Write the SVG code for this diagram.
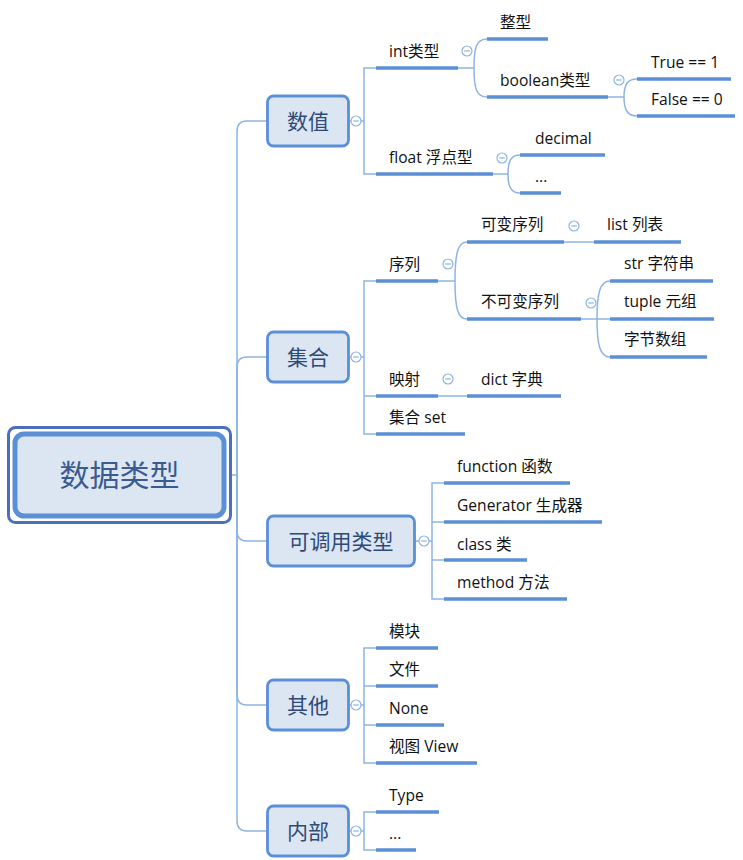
<svg xmlns="http://www.w3.org/2000/svg" width="743" height="860" viewBox="0 0 743 860">
<style>
.c{fill:none;stroke:#8db4e5;stroke-width:1.5}
.u{fill:none;stroke:#5b8fd6;stroke-width:3.5}
.n{fill:#dce6f3;stroke:#5b8fd6;stroke-width:2.8}
.o{fill:#fff;stroke:#8db4e5;stroke-width:1.2}
.m{stroke:#8db4e5;stroke-width:1.2}
.t{font-family:"Open Sans","Noto Sans CJK SC",sans-serif;font-size:15.6px;fill:#111}
.l{font-family:"Noto Sans CJK SC","Open Sans",sans-serif;font-size:21px;fill:#2e4a78;text-anchor:middle}
</style>
<defs>
<g id="col"><circle class="o" r="5"/><line class="m" x1="-2.8" y1="0" x2="2.8" y2="0"/></g>
</defs>
<rect width="743" height="860" fill="#fff"/>
<g id="connectors">
<path class="c" d="M231,475 H237"/>
<path class="c" d="M237,475 V131 Q237,121 247,121 H267"/>
<path class="c" d="M237,475 V367 Q237,357 247,357 H267"/>
<path class="c" d="M237,475 V531 Q237,541 247,541 H267"/>
<path class="c" d="M237,475 V695 Q237,705 247,705 H267"/>
<path class="c" d="M237,475 V821 Q237,831 247,831 H267"/>
<path class="c" d="M349,121 H364 M376,68 H364 V174 H376"/>
<path class="c" d="M458,68 H474 M474,68 C474,46 477,39 487,39 M474,68 C474,90 477,97 487,97"/>
<path class="c" d="M608,97 H624 M624,97 C624,85 627,79 637,79 M624,97 C624,109 627,116 637,116"/>
<path class="c" d="M493,174 H508 M508,174 C508,161 511,155 520,155 M508,174 C508,187 511,193 520,193"/>
<path class="c" d="M349,357 H364 M376,281 H364 V434 H376 M364,396 H376"/>
<path class="c" d="M438,281 H455 M455,281 C455,253 458,242 467,242 M455,281 C455,309 458,319 467,319"/>
<path class="c" d="M438,396 H467"/>
<path class="c" d="M564,242 H594"/>
<path class="c" d="M581,319 H610 M597,319 C597,293 600,281 610,281 M597,319 C597,345 600,357 610,357"/>
<path class="c" d="M415,541 H432 M444,483 H432 V599 H444 M432,522 H444 M432,560 H444"/>
<path class="c" d="M349,705 H364 M376,648 H364 V763 H376 M364,686 H376 M364,725 H376"/>
<path class="c" d="M349,831 H364 M376,812 H364 V850 H376"/>
</g>
<g id="root">
<rect x="8.5" y="427.5" width="222" height="95" rx="7" fill="#fff" stroke="#4a6fbd" stroke-width="3"/>
<rect x="15" y="434" width="209" height="82" rx="9" fill="#dce6f3" stroke="#5b8fd6" stroke-width="5"/>
<text x="119.5" y="486" font-family="Noto Sans CJK SC,sans-serif" font-size="30" fill="#3b5a8f" text-anchor="middle">数据类型</text>
</g>
<g id="n-shuzhi">
<rect class="n" x="267.5" y="96" width="81" height="50" rx="6"/>
<text class="l" x="308" y="128.5">数值</text>
<use href="#col" x="356" y="121"/>
</g>
<g id="n-jihe">
<rect class="n" x="267.5" y="332" width="81" height="50" rx="6"/>
<text class="l" x="308" y="364.5">集合</text>
<use href="#col" x="356" y="357"/>
</g>
<g id="n-kediaoyong">
<rect class="n" x="267.5" y="516" width="147" height="50" rx="6"/>
<text class="l" x="341" y="548.5">可调用类型</text>
<use href="#col" x="424" y="541"/>
</g>
<g id="n-qita">
<rect class="n" x="267.5" y="680" width="81" height="50" rx="6"/>
<text class="l" x="308" y="712.5">其他</text>
<use href="#col" x="356" y="705"/>
</g>
<g id="n-neibu">
<rect class="n" x="267.5" y="806" width="81" height="50" rx="6"/>
<text class="l" x="308" y="838.5">内部</text>
<use href="#col" x="356" y="831"/>
</g>
<g id="n-int"><path class="u" d="M376,68 H458"/><text class="t" x="389" y="57">int类型</text><use href="#col" x="467" y="51"/></g>
<g id="n-float"><path class="u" d="M376,174 H493"/><text class="t" x="389" y="163">float 浮点型</text><use href="#col" x="502" y="158"/></g>
<g id="n-zhengxing"><path class="u" d="M487,39 H548"/><text class="t" x="500" y="28">整型</text></g>
<g id="n-boolean"><path class="u" d="M487,97 H608"/><text class="t" x="500" y="86">boolean类型</text><use href="#col" x="619" y="80"/></g>
<g id="n-true"><path class="u" d="M637,79 H731"/><text class="t" x="651" y="68">True == 1</text></g>
<g id="n-false"><path class="u" d="M637,116 H735"/><text class="t" x="651" y="105">False == 0</text></g>
<g id="n-decimal"><path class="u" d="M520,155 H605"/><text class="t" x="535" y="144">decimal</text></g>
<g id="n-dots1"><path class="u" d="M520,193 H561"/><text class="t" x="535" y="182">...</text></g>
<g id="n-xulie"><path class="u" d="M376,281 H438"/><text class="t" x="389" y="270">序列</text><use href="#col" x="448" y="264"/></g>
<g id="n-yingshe"><path class="u" d="M376,396 H438"/><text class="t" x="389" y="385">映射</text><use href="#col" x="448" y="379"/></g>
<g id="n-set"><path class="u" d="M376,434 H465"/><text class="t" x="389" y="423">集合 set</text></g>
<g id="n-kebian"><path class="u" d="M467,242 H564"/><text class="t" x="481" y="230">可变序列</text><use href="#col" x="574" y="226"/></g>
<g id="n-bukebian"><path class="u" d="M467,319 H581"/><text class="t" x="481" y="307">不可变序列</text><use href="#col" x="591" y="303"/></g>
<g id="n-list"><path class="u" d="M594,242 H681"/><text class="t" x="607" y="230">list 列表</text></g>
<g id="n-str"><path class="u" d="M610,281 H713"/><text class="t" x="624" y="269">str 字符串</text></g>
<g id="n-tuple"><path class="u" d="M610,319 H714"/><text class="t" x="624" y="307">tuple 元组</text></g>
<g id="n-bytes"><path class="u" d="M610,357 H707"/><text class="t" x="624" y="345">字节数组</text></g>
<g id="n-dict"><path class="u" d="M467,396 H561"/><text class="t" x="481" y="385">dict 字典</text></g>
<g id="n-function"><path class="u" d="M444,483 H570"/><text class="t" x="457" y="472">function 函数</text></g>
<g id="n-generator"><path class="u" d="M444,522 H602"/><text class="t" x="457" y="511">Generator 生成器</text></g>
<g id="n-class"><path class="u" d="M444,560 H527"/><text class="t" x="457" y="550">class 类</text></g>
<g id="n-method"><path class="u" d="M444,599 H567"/><text class="t" x="457" y="588">method 方法</text></g>
<g id="n-mokuai"><path class="u" d="M376,648 H438"/><text class="t" x="389" y="637">模块</text></g>
<g id="n-wenjian"><path class="u" d="M376,686 H438"/><text class="t" x="389" y="675">文件</text></g>
<g id="n-none"><path class="u" d="M376,725 H444"/><text class="t" x="389" y="714">None</text></g>
<g id="n-view"><path class="u" d="M376,763 H477"/><text class="t" x="389" y="752">视图 View</text></g>
<g id="n-type"><path class="u" d="M376,812 H439"/><text class="t" x="389" y="801">Type</text></g>
<g id="n-dots2"><path class="u" d="M376,850 H416"/><text class="t" x="389" y="839">...</text></g>
</svg>
